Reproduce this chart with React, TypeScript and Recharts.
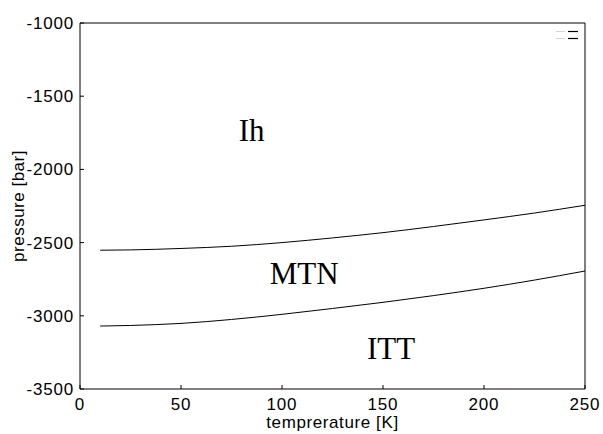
import { LineChart, Line, XAxis, YAxis, Legend, ReferenceDot } from 'recharts';

// phase boundaries, pressure [bar] vs temperature [K]
const temps = [10, 25, 50, 75, 100, 125, 150, 175, 200, 225, 250];
const ihMtn = [-2552, -2550, -2540, -2525, -2500, -2468, -2432, -2390, -2345, -2298, -2245];
const mtnItt = [-3070, -3066, -3052, -3025, -2990, -2950, -2908, -2862, -2812, -2756, -2694];

const tempTicks = [0, 50, 100, 150, 200, 250];
const pressureTicks = [-3500, -3000, -2500, -2000, -1500, -1000];

const phaseNames = ['Ih', 'MTN', 'ITT'];
const phaseTemps = [85, 111, 154];
const phasePressures = [-1731, -2708, -3220];

const data = temps.map((t, i) => ({ t, upper: ihMtn[i], lower: mtnItt[i] }));

const sans = '"Liberation Sans", Arial, sans-serif';
const serif = '"Liberation Serif", "Times New Roman", serif';
const tickStyle = { fill: '#000', fontSize: 17, fontFamily: sans, letterSpacing: 0.8 };

function KeyMarks({ payload }: { payload?: any[] }) {
  return (
    <div style={{ display: 'flex', flexDirection: 'column' }}>
      {(payload ?? []).map((entry, i) => (
        <svg key={i} width={26} height={7} style={{ display: 'block' }}>
          <line x1={0} x2={9} y1={3.5} y2={3.5} stroke="#d4d4d4" />
          <line x1={12} x2={22} y1={3.5} y2={3.5} stroke={entry.color} strokeWidth={1.2} />
        </svg>
      ))}
    </div>
  );
}

function PressureLabel(props: any) {
  const vb = props.viewBox;
  const cy = vb.y + vb.height / 2;
  return (
    <text x={18} y={cy} transform={`rotate(-90 18 ${cy})`} textAnchor="middle" dominantBaseline="central"
      fill="#000" fontSize={17} fontFamily={sans} letterSpacing={0.5}>
      pressure [bar]
    </text>
  );
}

function TempLabel(props: any) {
  const vb = props.viewBox;
  return (
    <text x={vb.x + vb.width / 2} y={428} textAnchor="middle" fill="#000" fontSize={17} fontFamily={sans}
      letterSpacing={0.6}>
      temprerature [K]
    </text>
  );
}

export default function App() {
  return (
    <div style={{ position: 'absolute', left: 0, top: 0, width: 603, height: 434, overflow: 'hidden' }}>
      <LineChart width={603} height={434} data={data} margin={{ top: 22, right: 17, bottom: 0, left: 0 }}>
        <XAxis xAxisId="bottom" dataKey="t" type="number" domain={[0, 250]} ticks={tempTicks} allowDataOverflow
          height={45} tickSize={-4} tickMargin={13} stroke="#000" tick={tickStyle} label={TempLabel} />
        <XAxis xAxisId="top" orientation="top" dataKey="t" type="number" domain={[0, 250]} ticks={tempTicks} allowDataOverflow
          height={1} tickSize={-4} tick={false} stroke="#000" />
        <YAxis yAxisId="left" type="number" domain={[-3500, -1000]} ticks={pressureTicks} allowDataOverflow
          width={80} tickSize={-4} tickMargin={10} stroke="#000" tick={tickStyle} label={PressureLabel} />
        <YAxis yAxisId="right" orientation="right" type="number" domain={[-3500, -1000]} ticks={pressureTicks} allowDataOverflow
          width={1} tickSize={-4} tick={false} stroke="#000" />
        <Legend layout="vertical" align="center" verticalAlign="middle"
          wrapperStyle={{ top: 28, left: 556, width: 'auto', height: 'auto' }}
          content={(props: any) => <KeyMarks payload={props.payload} />} />
        <Line xAxisId="bottom" yAxisId="left" dataKey="upper" name="" type="monotone" stroke="#000" strokeWidth={1}
          dot={false} isAnimationActive={false} />
        <Line xAxisId="bottom" yAxisId="left" dataKey="lower" name="" type="monotone" stroke="#000" strokeWidth={1}
          dot={false} isAnimationActive={false} />
        {phaseNames.map((name, i) => (
          <ReferenceDot key={name} xAxisId="bottom" yAxisId="left" x={phaseTemps[i]} y={phasePressures[i]} r={0}
            fill="none" stroke="none"
            label={{ value: name, position: 'center', fill: '#000', fontSize: 31, fontFamily: serif }} />
        ))}
      </LineChart>
    </div>
  );
}
